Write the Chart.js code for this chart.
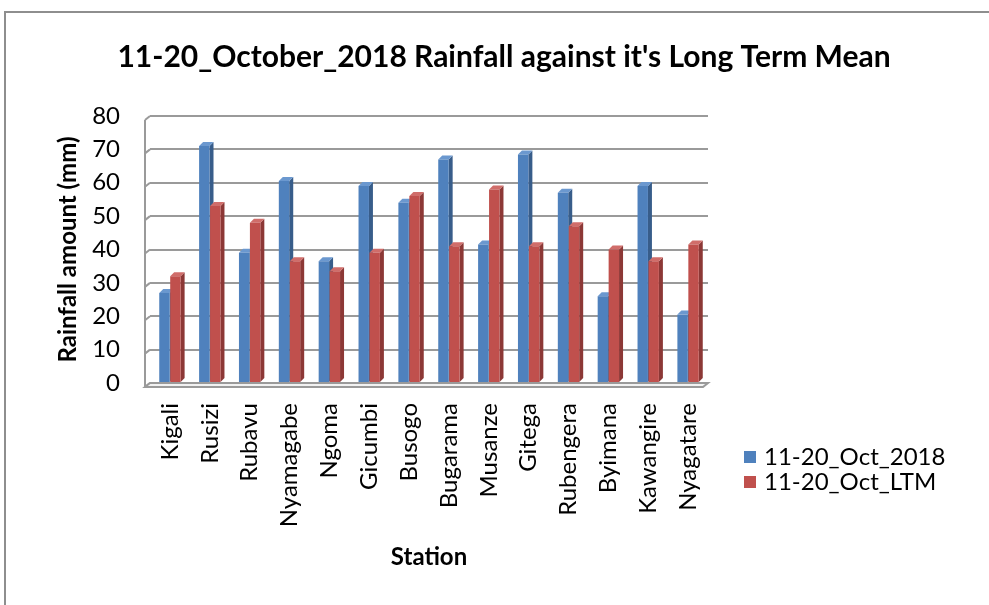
<!DOCTYPE html>
<html>
<head>
<meta charset="utf-8">
<script src="https://cdn.jsdelivr.net/npm/chart.js@4.4.1/dist/chart.umd.min.js"></script>
<style>
  html, body { margin: 0; padding: 0; background: #fff; }
  #wrap { width: 989px; height: 605px; position: relative; }
</style>
</head>
<body>
<div id="wrap"><canvas id="rain" width="989" height="605"></canvas></div>
<script>
const stations = ['Kigali', 'Rusizi', 'Rubavu', 'Nyamagabe', 'Ngoma', 'Gicumbi', 'Busogo',
  'Bugarama', 'Musanze', 'Gitega', 'Rubengera', 'Byimana', 'Kawangire', 'Nyagatare'];
const oct2018 = [27, 71, 39, 60.5, 36.5, 59, 54, 67, 41.5, 68.5, 57, 26, 59, 20.5];
const octLTM = [32, 53, 48, 36.5, 33.5, 39, 56, 41, 58, 41, 47, 40, 36.5, 41.5];
const seriesNames = ['11-20_Oct_2018', '11-20_Oct_LTM'];
const yTicks = [0, 10, 20, 30, 40, 50, 60, 70, 80];

const FONT = 'Lato, "Open Sans", sans-serif';
const front = ['#4f81bd', '#c0504d'];
const side = ['#385d8a', '#8c3836'];
const topc = ['#6b98cf', '#d06d6a'];

// fake 3d: side walls, floor, bar sides/tops, plus frame, title, legend
const excel3d = {
  id: 'excel3d',
  beforeDraw(chart) {
    const ctx = chart.ctx;
    ctx.save();
    ctx.strokeStyle = '#8e8e8e';
    ctx.lineWidth = 2;
    ctx.beginPath();
    ctx.moveTo(5, 605); ctx.lineTo(5, 12); ctx.lineTo(989, 12);
    ctx.stroke();
    ctx.restore();
  },
  beforeDatasetsDraw(chart) {
    const ctx = chart.ctx;
    const { left, right, bottom, top } = chart.chartArea;
    const ys = chart.scales.y;
    ctx.save();
    ctx.strokeStyle = '#9a9a9a';
    ctx.lineWidth = 2;
    ctx.beginPath();
    ctx.moveTo(left - 5, bottom + 4); ctx.lineTo(left - 5, top + 4);
    yTicks.forEach(v => {
      const y = ys.getPixelForValue(v);
      ctx.moveTo(left - 5, y + 4); ctx.lineTo(left, y);
    });
    ctx.stroke();
    // floor
    ctx.fillStyle = '#f2f2f2';
    ctx.beginPath();
    ctx.moveTo(left - 5, bottom + 4); ctx.lineTo(right - 5, bottom + 4);
    ctx.lineTo(right, bottom); ctx.lineTo(left, bottom); ctx.closePath();
    ctx.fill(); ctx.stroke();
    const d = 4;
    chart.data.datasets.forEach((ds, i) => {
      chart.getDatasetMeta(i).data.forEach(bar => {
        const w = bar.width, x1 = bar.x - w / 2, x2 = bar.x + w / 2;
        ctx.fillStyle = side[i];
        ctx.beginPath();
        ctx.moveTo(x2, bar.y); ctx.lineTo(x2 + d, bar.y - d);
        ctx.lineTo(x2 + d, bar.base - d); ctx.lineTo(x2, bar.base);
        ctx.closePath(); ctx.fill();
        ctx.fillStyle = topc[i];
        ctx.beginPath();
        ctx.moveTo(x1, bar.y); ctx.lineTo(x1 + d, bar.y - d);
        ctx.lineTo(x2 + d, bar.y - d); ctx.lineTo(x2, bar.y);
        ctx.closePath(); ctx.fill();
      });
    });
    ctx.restore();
  },
  afterDraw(chart) {
    const ctx = chart.ctx;
    ctx.save();
    ctx.fillStyle = '#000';
    ctx.textAlign = 'center';
    ctx.textBaseline = 'middle';
    ctx.font = 'bold 30px ' + FONT;
    ctx.fillText("11-20_October_2018 Rainfall against it's Long Term Mean", 504, 57);
    ctx.font = '24px ' + FONT;
    ctx.textAlign = 'left';
    chart.data.datasets.forEach((ds, i) => {
      const y = 457 + i * 25;
      ctx.fillStyle = ds.backgroundColor;
      ctx.fillRect(744, y - 6, 12, 12);
      ctx.fillStyle = '#000';
      ctx.fillText(ds.label, 764, y);
    });
    ctx.restore();
  }
};

new Chart(document.getElementById('rain'), {
  type: 'bar',
  data: {
    labels: stations,
    datasets: [
      { label: seriesNames[0], data: oct2018, backgroundColor: front[0] },
      { label: seriesNames[1], data: octLTM, backgroundColor: front[1] }
    ]
  },
  options: {
    responsive: false,
    animation: false,
    devicePixelRatio: 1,
    layout: { padding: { left: 5, right: 281, top: 116, bottom: 0 } },
    categoryPercentage: 0.55,
    barPercentage: 0.95,
    plugins: { legend: { display: false }, title: { display: false }, tooltip: { enabled: false } },
    scales: {
      x: {
        grid: { display: false },
        border: { display: false },
        ticks: { minRotation: 90, maxRotation: 90, autoSkip: false, color: '#000', padding: 12,
          font: { family: FONT, size: 24 } },
        title: { display: true, text: 'Station', color: '#000', padding: { top: 0, bottom: 33 },
          font: { family: FONT, size: 24, weight: 'bold' } },
        afterFit(s) { s.height = 222; }
      },
      y: {
        min: 0, max: 80,
        afterBuildTicks(s) { s.ticks = yTicks.map(v => ({ value: v })); },
        grid: { color: '#9a9a9a', lineWidth: 2, drawTicks: false },
        border: { display: false },
        ticks: { color: '#000', padding: 30, font: { family: FONT, size: 24 } },
        title: { display: true, text: 'Rainfall amount (mm)', color: '#000', padding: { top: 49, bottom: 0 },
          font: { family: FONT, size: 24, weight: 'bold' } },
        afterFit(s) { s.width = 145; }
      }
    }
  },
  plugins: [excel3d]
});
</script>
</body>
</html>
